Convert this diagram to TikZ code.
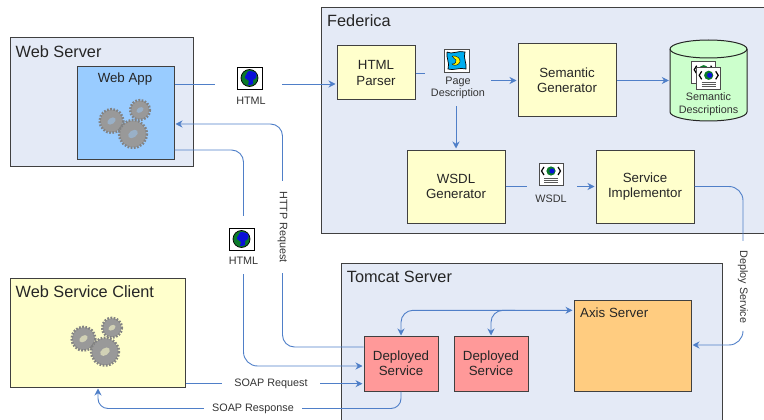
\documentclass[tikz,border=0pt]{standalone}
\usepackage{fontspec}
\setmainfont{Liberation Sans}
\usetikzlibrary{arrows.meta,calc}

\definecolor{panelblue}{HTML}{E4EAF6}
\definecolor{procyellow}{HTML}{FFFFCC}
\definecolor{appblue}{HTML}{99CCFF}
\definecolor{servicepink}{HTML}{FF9999}
\definecolor{axisorange}{HTML}{FFCC80}
\definecolor{storegreen}{HTML}{CCFFCC}
\definecolor{linkblue}{HTML}{4F7FC8}
\definecolor{gearcol}{HTML}{999999}
\definecolor{earthgreen}{HTML}{0B7A2A}
\definecolor{earthblue}{HTML}{0A10D8}

\tikzset{
	panel/.style={draw=black!75,line width=1pt,fill=panelblue,inner sep=0pt},
	panelname/.style={font=\fontsize{16.3}{18}\selectfont,text=black!85,anchor=west,inner sep=0pt},
	boxname/.style={font=\fontsize{13.3}{15}\selectfont,text=black!85,inner sep=0pt},
	procbox/.style={draw=black!75,line width=1pt,fill=procyellow,inner sep=0pt,align=center,text=black!85,
		font=\fontsize{13.3}{15}\selectfont},
	msgbox/.style={inner sep=0pt},
	msgtext/.style={font=\fontsize{10.8}{12.6}\selectfont,text=black!80,inner sep=0pt,align=center},
	link/.style={draw=linkblue,line width=0.9pt},
	flow/.style={link,-{Stealth[length=7pt,width=7pt]},shorten >=1pt},
	pics/gears/.style={code={
		\foreach \cx/\cy/\rad/\ang in {-21.5/-13/11.5/35,7/-24/9.5/30,0/0/13.5/35}{
			\begin{scope}[shift={(\cx,\cy)}]
				\fill[gearcol] (0,0) circle ({\rad});
				\draw[gearcol!85!black,line width=2.4pt,dash pattern=on 1.7pt off 1.5pt] (0,0) circle ({\rad+0.4});
				\fill[#1,rotate=\ang] (0,0) ellipse ({\rad*0.40} and {\rad*0.26});
			\end{scope}
		}
	}},
	pics/globeicon/.style={code={
		\draw[fill=white,draw=black,line width=0.8pt] (0,0) rectangle (25,22);
		\draw[fill=earthgreen,draw=black,line width=0.7pt] (12.5,11) circle (8.5);
		\fill[earthblue] plot[smooth cycle] coordinates {(12,4) (19,6) (19,11) (16,13) (16,17) (11,18) (12,14) (8,11) (9,8)};
	}},
	pics/wsdlicon/.style={code={
		\draw[fill=white,draw=black!70,line width=0.8pt] (0,0) rectangle (24,22);
		\draw[line width=1.2pt] (5,4) -- (2.5,8) -- (5,12) (19,4) -- (21.5,8) -- (19,12);
		\fill[earthgreen] (12,8) circle (4.6);
		\fill[earthblue] (13,8) circle (2.6);
		\foreach \ly in {15,17,19}{
			\draw[black!65,line width=0.7pt] (5,\ly) -- (19,\ly);
		}
	}},
	pics/pageicon/.style={code={
		\draw[fill=white,draw=black!70,line width=0.8pt] (0,0) rectangle (25,23);
		\draw[fill=cyan,draw=black,line width=0.7pt] (3,3) .. controls (8,6) and (14,1) .. (21,3) .. controls (19,9) and (23,14) .. (22,20)
			.. controls (16,18) and (9,22) .. (4,20) .. controls (6,14) and (2,9) .. (3,3);
		\fill[yellow,draw=black,line width=0.4pt] (8,7) .. controls (13,6) and (17,10) .. (16,13) .. controls (14,17) and (10,17) .. (8,15)
			.. controls (11,15) and (13,13) .. (12,11) .. controls (11,10) and (9,9) .. (8,7);
	}}
}

\begin{document}
\begin{tikzpicture}[x=1pt,y=-1pt]
	\clip (0,0) rectangle (764,420);

	% panels
	\node[panel,minimum width=183,minimum height=128] (webserver) at (101.5,102) {};
	\node[panel,minimum width=446,minimum height=226] (federica) at (544,120.5) {};
	\node[panel,minimum width=381,minimum height=157] (tomcat) at (531.5,341.5) {};
	\node[panel,fill=procyellow,minimum width=175,minimum height=109] (client) at (97.5,332.5) {};
	\node[panelname] (webservername) at (15.5,52) {Web Server};
	\node[panelname] (federicaname) at (327,20.7) {Federica};
	\node[panelname] (tomcatname) at (346.7,276.7) {Tomcat Server};
	\node[panelname] (clientname) at (15.5,291.7) {Web Service Client};

	% boxes
	\node[procbox,fill=appblue,minimum width=97,minimum height=92] (webapp) at (125.5,113) {};
	\node[boxname] (webappname) at (125,79) {Web App};
	\node[procbox,minimum width=78,minimum height=54] (parser) at (376,73) {HTML\\[1pt]Parser};
	\node[procbox,minimum width=98,minimum height=73] (semgen) at (567,80.5) {Semantic\\Generator};
	\node[procbox,minimum width=98,minimum height=73] (wsdlgen) at (456,186.5) {WSDL\\Generator};
	\node[procbox,minimum width=98,minimum height=73] (implementor) at (645,186.5) {Service\\Implementor};
	\node[procbox,fill=servicepink,minimum width=74,minimum height=55] (deployed1) at (401,363.5) {Deployed\\Service};
	\node[procbox,fill=servicepink,minimum width=74,minimum height=55] (deployed2) at (491,363.5) {Deployed\\Service};
	\node[procbox,fill=axisorange,minimum width=117,minimum height=91] (axis) at (632.5,345.5) {};
	\node[boxname,anchor=west] (axisname) at (580,312.5) {Axis Server};

	% store drum
	\node[msgbox,minimum width=77,minimum height=81] (semdesc) at (708.5,80.5) {};
	\draw[draw=black!85,line width=1pt,fill=storegreen] (670,49)
		-- (670,112) arc[start angle=180,end angle=360,x radius=38.5pt,y radius=9pt]
		-- (747,49) arc[start angle=0,end angle=180,x radius=38.5pt,y radius=9pt] -- cycle;
	\draw[draw=black!85,line width=1pt] (670,49) arc[start angle=180,end angle=360,x radius=38.5pt,y radius=9pt];

	\pic at (133,134) {gears={appblue!45!gearcol}};
	\pic at (105,351.7) {gears={procyellow!55!gearcol}};

	% messages on the links
	\node[msgbox,minimum width=67,minimum height=40] (htmla) at (248.5,84) {};
	\pic at (237,67) {globeicon};
	\node[msgtext] (htmlatext) at (251,100.5) {HTML};
	\node[msgbox,minimum width=66,minimum height=60] (pagedesc) at (458,76) {};
	\pic at (444,49) {pageicon};
	\node[msgtext] (pagedesctext) at (458,88) {Page\\Description};
	\node[msgbox,minimum width=50,minimum height=40] (wsdlmsg) at (552,186.5) {};
	\pic at (539,163) {wsdlicon};
	\node[msgtext] (wsdlmsgtext) at (551,199) {WSDL};
	\node[msgbox,minimum width=50,minimum height=58] (htmlb) at (243.5,245) {};
	\pic at (229,228) {globeicon};
	\node[msgtext] (htmlbtext) at (243.5,260.5) {HTML};
	\node[msgtext,rotate=-90,minimum width=92] (httpreq) at (282.5,227) {HTTP Request};
	\node[msgtext,rotate=-90,minimum width=92] (deploy) at (743,287) {Deploy Service};
	\node[msgtext,minimum width=98] (soapreq) at (271,383.7) {SOAP Request};
	\node[msgtext,minimum width=98] (soapresp) at (253,408.5) {SOAP Response};

	\pic at (691.7,61.7) {wsdlicon};
	\pic at (696.7,67.3) {wsdlicon};
	\node[msgtext] (semdesctext) at (708.5,104.5) {Semantic\\Descriptions};

	\coordinate (axisjoin) at (516,310.3);

	% links
	\draw[link] (webapp.east |- htmla) -- (htmla);
	\draw[flow] (htmla) -- (htmla -| parser.west);
	\draw[link] (parser) -- (pagedesc.west |- parser);
	\draw[flow] (pagedesc.east |- semgen) -- (semgen);
	\draw[flow] (pagedesc.south -| wsdlgen) -- (wsdlgen);
	\draw[flow] (semgen) -- (semdesc);
	\draw[link] (wsdlgen) -- (wsdlmsg);
	\draw[flow] (wsdlmsg) -- (implementor);
	\draw[link,rounded corners=14pt] (implementor.east) -| (deploy.west);
	\draw[flow,rounded corners=14pt] (deploy.east) |- (axis.east |- 0,345);
	\draw[link,rounded corners=12pt] (deployed1.west |- 0,347) -| (httpreq.east);
	\draw[flow,rounded corners=12pt] (httpreq.west) |- (webapp.east |- 0,124);
	\draw[link,rounded corners=12pt] (webapp.east |- 0,150) -| (htmlb.north);
	\draw[flow,rounded corners=14pt] (htmlb.south) |- (deployed1.west |- 0,366);
	\draw[link] (client.east |- soapreq) -- (soapreq);
	\draw[flow] (soapreq) -- (soapreq -| deployed1.west);
	\draw[link,rounded corners=10pt] (deployed1.south) |- (soapresp.east);
	\draw[flow,rounded corners=10pt] (soapresp.west) -| (98,0 |- client.south);
	\draw[flow,{Stealth[length=7pt,width=7pt]}-{Stealth[length=7pt,width=7pt]},rounded corners=12pt] (deployed1.north) |- (axis.west |- axisjoin);
	\draw[flow,{Stealth[length=7pt,width=7pt]}-,rounded corners=12pt] (deployed2.north) |- (axisjoin);
\end{tikzpicture}
\end{document}
